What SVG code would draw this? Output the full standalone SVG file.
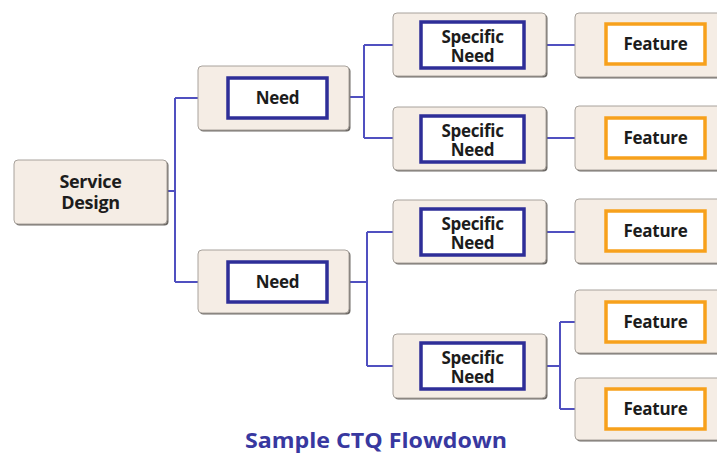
<svg xmlns="http://www.w3.org/2000/svg" width="717" height="453" viewBox="0 0 717 453">
<defs>
<style>
.box{fill:#f5ede5;stroke:#a8a29c;stroke-width:1}
.sh{fill:#6e6a66}
.ib{fill:#ffffff;stroke:#2e2e98;stroke-width:3.5}
.io{fill:#ffffff;stroke:#f7a11c;stroke-width:3.5}
.t{font-family:"Open Sans",Lato,sans-serif;font-weight:bold;font-size:17px;fill:#1c1c1c;text-anchor:middle;font-variant-ligatures:none;letter-spacing:-0.3px}
.big{font-size:18px}
.c{fill:none;stroke:#5050c0;stroke-width:2}
.title{font-family:"Open Sans",Lato,sans-serif;font-weight:bold;font-size:21px;fill:#3838a0;text-anchor:middle}
</style>
</defs>
<g id="connectors">
<path class="c" d="M167,191 H175 M175,98 V282 M175,98 H198 M175,282 H198"/>
<path class="c" d="M349,97 H364 M364,45 V138 M364,45 H393 M364,138 H393"/>
<path class="c" d="M349,282 H367 M367,232 V366 M367,232 H393 M367,366 H393"/>
<path class="c" d="M546,45 H575 M546,138 H575 M546,232 H575"/>
<path class="c" d="M546,366 H560 M560,322 V409 M560,322 H575 M560,409 H575"/>
</g>
<g id="service-design">
<rect class="sh" x="15.5" y="161.5" width="153" height="64" rx="4"/>
<rect class="box" x="14" y="160" width="153" height="64" rx="4"/>
<text class="t big" x="90.5" y="188">Service</text>
<text class="t big" x="90.5" y="209">Design</text>
</g>
<g id="need-1">
<rect class="sh" x="199.5" y="67.5" width="151" height="64" rx="4"/>
<rect class="box" x="198" y="66" width="151" height="64" rx="4"/>
<rect class="ib" x="228" y="78" width="99" height="40"/>
<text class="t" x="277.5" y="104">Need</text>
</g>
<g id="need-2">
<rect class="sh" x="199.5" y="251.5" width="151" height="63" rx="4"/>
<rect class="box" x="198" y="250" width="151" height="63" rx="4"/>
<rect class="ib" x="228" y="262" width="99" height="40"/>
<text class="t" x="277.5" y="288">Need</text>
</g>
<g id="specific-need-1">
<rect class="sh" x="394.5" y="14.5" width="153" height="63" rx="4"/>
<rect class="box" x="393" y="13" width="153" height="63" rx="4"/>
<rect class="ib" x="421" y="22" width="103" height="46"/>
<text class="t" x="472.5" y="42.5">Specific</text>
<text class="t" x="472.5" y="62">Need</text>
</g>
<g id="specific-need-2">
<rect class="sh" x="394.5" y="108.5" width="153" height="63" rx="4"/>
<rect class="box" x="393" y="107" width="153" height="63" rx="4"/>
<rect class="ib" x="421" y="116" width="103" height="46"/>
<text class="t" x="472.5" y="136.5">Specific</text>
<text class="t" x="472.5" y="156">Need</text>
</g>
<g id="specific-need-3">
<rect class="sh" x="394.5" y="201.5" width="153" height="63" rx="4"/>
<rect class="box" x="393" y="200" width="153" height="63" rx="4"/>
<rect class="ib" x="421" y="209" width="103" height="46"/>
<text class="t" x="472.5" y="229.5">Specific</text>
<text class="t" x="472.5" y="249">Need</text>
</g>
<g id="specific-need-4">
<rect class="sh" x="394.5" y="335.5" width="153" height="64" rx="4"/>
<rect class="box" x="393" y="334" width="153" height="64" rx="4"/>
<rect class="ib" x="421" y="343" width="103" height="46"/>
<text class="t" x="472.5" y="363.5">Specific</text>
<text class="t" x="472.5" y="383">Need</text>
</g>
<g id="feature-1">
<rect class="sh" x="576.5" y="14.5" width="150" height="64" rx="4"/>
<rect class="box" x="575" y="13" width="150" height="64" rx="4"/>
<rect class="io" x="606" y="24" width="99" height="40"/>
<text class="t" x="655.5" y="50">Feature</text>
</g>
<g id="feature-2">
<rect class="sh" x="576.5" y="107.5" width="150" height="64" rx="4"/>
<rect class="box" x="575" y="106" width="150" height="64" rx="4"/>
<rect class="io" x="606" y="118" width="99" height="40"/>
<text class="t" x="655.5" y="144">Feature</text>
</g>
<g id="feature-3">
<rect class="sh" x="576.5" y="200.5" width="150" height="64" rx="4"/>
<rect class="box" x="575" y="199" width="150" height="64" rx="4"/>
<rect class="io" x="606" y="211" width="99" height="40"/>
<text class="t" x="655.5" y="237">Feature</text>
</g>
<g id="feature-4">
<rect class="sh" x="576.5" y="291.5" width="150" height="63" rx="4"/>
<rect class="box" x="575" y="290" width="150" height="63" rx="4"/>
<rect class="io" x="606" y="302" width="99" height="40"/>
<text class="t" x="655.5" y="328">Feature</text>
</g>
<g id="feature-5">
<rect class="sh" x="576.5" y="379.5" width="150" height="62" rx="4"/>
<rect class="box" x="575" y="378" width="150" height="62" rx="4"/>
<rect class="io" x="606" y="389" width="99" height="40"/>
<text class="t" x="655.5" y="415">Feature</text>
</g>
<text class="title" x="376" y="448" textLength="262" lengthAdjust="spacingAndGlyphs">Sample CTQ Flowdown</text>
</svg>
